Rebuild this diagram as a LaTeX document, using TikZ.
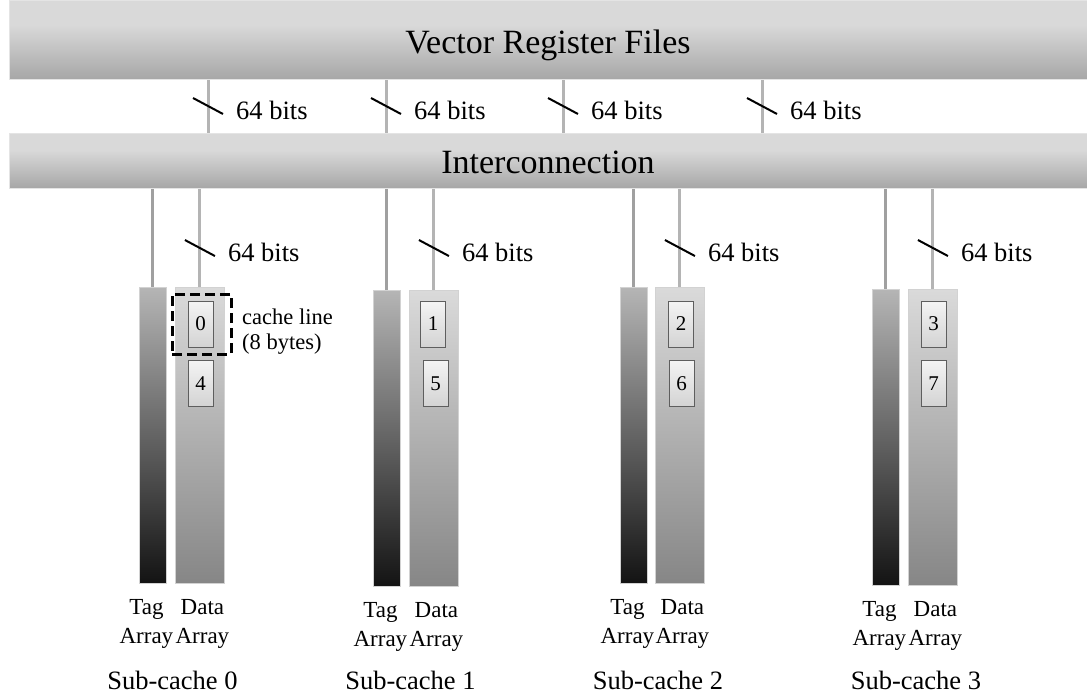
\documentclass[tikz,border=0pt]{standalone}
\usepackage{fontspec}
\setmainfont{Liberation Serif}
\usetikzlibrary{calc}

% palette
\definecolor{barlight}{HTML}{D9D9D9}
\definecolor{bardark}{HTML}{A6A6A6}
\definecolor{baredge}{HTML}{E4E4E4}
\definecolor{tagtop}{HTML}{B5B5B5}
\definecolor{tagbot}{HTML}{131313}
\definecolor{datatop}{HTML}{DADADA}
\definecolor{databot}{HTML}{868686}
\definecolor{arredge}{HTML}{D2D2D2}
\definecolor{wire}{HTML}{B4B4B4}
\definecolor{tagwire}{HTML}{A0A0A0}
\definecolor{celltop}{HTML}{F4F4F4}
\definecolor{cellbot}{HTML}{D3D3D3}
\definecolor{celledge}{HTML}{5E5E5E}

% bus bars: flat light top, darkening towards the bottom edge
\pgfdeclareverticalshading{barshade}{100bp}{color(0bp)=(bardark); color(25bp)=(bardark); color(60bp)=(barlight); color(100bp)=(barlight)}

\tikzset{
  bar/.style={draw=baredge, line width=1pt, shading=barshade, inner sep=0pt, anchor=north west},
  bigtext/.style={font=\fontsize{34}{40}\selectfont, inner sep=0pt},
  midtext/.style={font=\fontsize{26.5}{32}\selectfont, inner sep=0pt},
  labeltext/.style={font=\fontsize{23}{29}\selectfont, inner sep=0pt, align=center},
  smalltext/.style={font=\fontsize{22.5}{26}\selectfont, inner sep=0pt},
  tagarr/.style={draw=arredge, line width=0.8pt, top color=tagtop, bottom color=tagbot, inner sep=0pt, anchor=north west},
  dataarr/.style={draw=arredge, line width=0.8pt, top color=datatop, bottom color=databot, inner sep=0pt, anchor=north west},
  cell/.style={draw=celledge, line width=0.9pt, top color=celltop, bottom color=cellbot, minimum width=25pt, minimum height=46pt, inner sep=0pt, font=\fontsize{21}{24}\selectfont},
  dashbox/.style={draw=black, line width=3pt, dash pattern=on 10pt off 5pt, inner sep=0pt},
  buswire/.style={draw=wire, line width=3pt},
  tagbus/.style={draw=tagwire, line width=3pt},
  slash/.style={draw=black, line width=2pt},
}

\begin{document}
\begin{tikzpicture}[x=1pt, y=1pt]
\path[use as bounding box, fill=white] (0,0) rectangle (1087,-698);

% shared buses
\node[bar, minimum width=1100pt, minimum height=79pt] (vrf) at (8.5,-0.5) {};
\node[bigtext, anchor=base] (vrft) at (548,-54) {Vector Register Files};
\node[bar, minimum width=1100pt, minimum height=55pt] (ic) at (8.5,-133) {};
\node[bigtext, anchor=base] (ict) at (548,-174) {Interconnection};

% 64-bit links from the register files to the interconnection
\foreach \k/\x in {1/208, 2/386, 3/563, 4/762} {
  \coordinate (b\k) at (\x,0);
  \draw[buswire] (vrf.south -| b\k) -- (ic.north -| b\k);
  \draw[slash] (b\k |- 0,-106) +(-15,8) -- +(15,-8);
  \node[midtext, anchor=base west] (w\k) at ($(b\k |- 0,-120)+(28,0)$) {64 bits};
}

% sub-caches: tag array, data array, links and captions
\foreach \i/\tx/\ty/\dx/\scx in {0/139/287/175/172.5, 1/373/290/409/410.5, 2/620/287/655/658, 3/872/289/908/916} {
  \node[tagarr, minimum width=27pt, minimum height=296pt] (tag\i) at (\tx,-\ty) {};
  \node[dataarr, minimum width=49pt, minimum height=296pt] (data\i) at (\dx,-\ty) {};
  \draw[tagbus] (ic.south -| tag\i.north) -- (tag\i.north);
  \draw[buswire] (ic.south -| data\i.north) -- (data\i.north);
  \draw[slash] (data\i.north |- 0,-248) +(-15,8) -- +(15,-8);
  \node[midtext, anchor=base west] (dw\i) at ($(data\i.north |- 0,-261)+(28,0)$) {64 bits};
  \node[labeltext, anchor=north] (tl\i) at ($(tag\i.south)+(-6.5,-15)$) {Tag\\Array};
  \node[labeltext, anchor=north] (dl\i) at ($(data\i.south)+(2.5,-15)$) {Data\\Array};
  \node[midtext, anchor=base] (sc\i) at (\scx,-689) {Sub-cache \i};
}

% cache lines held in each data array
\foreach \a/\b/\ca/\cb in {0/4/200.5/200.5, 1/5/433/435.5, 2/6/681/681.5, 3/7/933.5/933.5} {
  \node[cell] (c\a) at (\ca,-324) {\a};
  \node[cell] (c\b) at (\cb,-383.5) {\b};
}

% highlighted cache line
\node[dashbox, minimum width=59pt, minimum height=60pt] (cl) at (201.5,-324) {};
\node[smalltext, anchor=base west] (clt) at (242,-324) {cache line};
\node[smalltext, anchor=base west] (clb) at (242,-349) {(8 bytes)};
\end{tikzpicture}
\end{document}
